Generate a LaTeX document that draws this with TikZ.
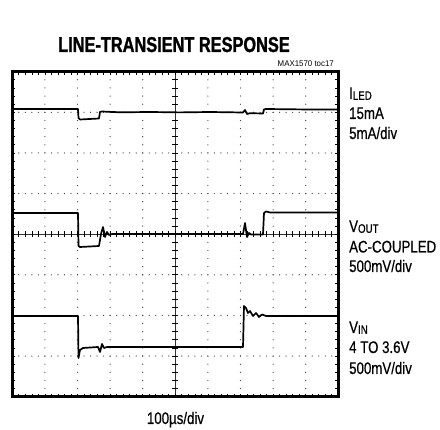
\documentclass[tikz,border=0pt]{standalone}
\usepackage{fontspec}
\setmainfont{Liberation Sans}
\newfontfamily\condf{Liberation Sans}[FakeStretch=0.79,FakeBold=0.5]
\newfontfamily\titlef{Liberation Sans}[FakeStretch=0.76,FakeBold=1.2]
\newfontfamily\smallf{Liberation Sans}[FakeStretch=0.95]
\tikzset{
  frame/.style={line width=2.8pt},
  trace/.style={line width=1.7pt, line join=round, line cap=round},
  griddot/.style={fill=black!75},
  tickmark/.style={line width=0.7pt},
  lbl/.style={inner sep=0pt, anchor=base west, font=\condf\fontsize{16.8}{20}\selectfont}
}
\newcommand{\subtxt}[1]{\raisebox{-0.8pt}{\fontsize{12.3}{12}\selectfont #1}}
\begin{document}
\begin{tikzpicture}[x=1pt,y=-1pt]
\useasboundingbox (0,0) rectangle (440,430);
\fill[white] (0,0) rectangle (440,430);
\def\xl{12.3}\def\yt{71.7}\def\dx{32.6}\def\dy{40.625}
% grid dots on vertical gridlines
\foreach \i in {1,2,3,4,6,7,8,9}{
  \foreach \k in {1,...,39}{
    \fill[griddot] ({\xl+\i*\dx},{\yt+\k*\dy/5}) circle (0.65);
  }
}
% grid dots on horizontal gridlines
\foreach \j in {1,2,3,5,6,7}{
  \foreach \k in {1,...,49}{
    \fill[griddot] ({\xl+\k*\dx/5},{\yt+\j*\dy}) circle (0.65);
  }
}
% center axes
\draw[line width=0.6pt, black!80] ({\xl+5*\dx},\yt) -- ({\xl+5*\dx},{\yt+8*\dy});
\draw[line width=0.6pt, black!80] (\xl,{\yt+4*\dy}) -- ({\xl+10*\dx},{\yt+4*\dy});
\foreach \k in {1,...,39}{
  \draw[tickmark] ({\xl+5*\dx-3},{\yt+\k*\dy/5}) -- ({\xl+5*\dx+3},{\yt+\k*\dy/5});
}
\foreach \k in {1,...,49}{
  \draw[tickmark] ({\xl+\k*\dx/5},{\yt+4*\dy-3}) -- ({\xl+\k*\dx/5},{\yt+4*\dy+3});
}
% frame ticks
\foreach \k in {1,...,49}{
  \draw[tickmark] ({\xl+\k*\dx/5},\yt) -- ({\xl+\k*\dx/5},{\yt+3});
  \draw[tickmark] ({\xl+\k*\dx/5},{\yt+8*\dy}) -- ({\xl+\k*\dx/5},{\yt+8*\dy-3});
}
\foreach \k in {1,...,39}{
  \draw[tickmark] (\xl,{\yt+\k*\dy/5}) -- ({\xl+3},{\yt+\k*\dy/5});
  \draw[tickmark] ({\xl+10*\dx},{\yt+\k*\dy/5}) -- ({\xl+10*\dx-3},{\yt+\k*\dy/5});
}
% frame
\draw[frame] (\xl,\yt) rectangle ({\xl+10*\dx},{\yt+8*\dy});
% ILED trace
\draw[trace] (13,109) -- (78,109) -- (78.5,118) -- (80,119.5) -- (99,118.5) -- (100,112)
  -- (102,111.5) -- (120,112.3) -- (150,112) -- (180,112.4) -- (210,112) -- (243,112.5)
  -- (245,110) -- (247,114) -- (250,113.2) -- (263,113.5) -- (264,109.5) -- (266,109)
  -- (300,109.4) -- (337,109.5);
% VOUT trace
\draw[trace] (13,213) -- (78,213) -- (78.5,246) -- (80,247) -- (99,246) -- (100,240)
  -- (101,234) -- (103,227) -- (105,237) -- (107,232) -- (109,235) -- (112,234)
  -- (243,234) -- (245,223) -- (247,237) -- (249,233) -- (251,234.5) -- (263,234.5)
  -- (264,213) -- (266,211.5) -- (270,212.5) -- (337,212.5);
% VIN trace
\draw[trace] (13,316) -- (78,316) -- (78.5,358) -- (80,350) -- (83,348) -- (98,347)
  -- (100,352) -- (102,344) -- (104,348) -- (107,347) -- (243,347)
  -- (244,306) -- (246,308) -- (248,313) -- (250,311) -- (253,316) -- (256,313)
  -- (259,317) -- (262,314.5) -- (266,316) -- (337,316);
% labels
\node[inner sep=0pt, anchor=base, font=\titlef\bfseries\fontsize{21.5}{21}\selectfont] (title) at (174,52) {LINE-TRANSIENT RESPONSE};
\node[inner sep=0pt, anchor=base east, font=\smallf\fontsize{8.3}{8}\selectfont] (tag) at (334,66.5) {MAX1570 toc17};
\node[lbl] (iled) at (349,99) {I\subtxt{LED}};
\node[lbl] (iled2) at (349,119) {15mA};
\node[lbl] (iled3) at (349,139) {5mA/div};
\node[lbl] (vout) at (349,232) {V\subtxt{OUT}};
\node[lbl] (vout2) at (349,252.5) {AC-COUPLED};
\node[lbl] (vout3) at (349,272) {500mV/div};
\node[lbl] (vin) at (349,333) {V\subtxt{IN}};
\node[lbl] (vin2) at (349,353) {4 TO 3.6V};
\node[lbl] (vin3) at (349,374) {500mV/div};
\node[inner sep=0pt, anchor=base, font=\condf\fontsize{16.8}{20}\selectfont] (xscale) at (175.5,424) {100µs/div};
\end{tikzpicture}
\end{document}
